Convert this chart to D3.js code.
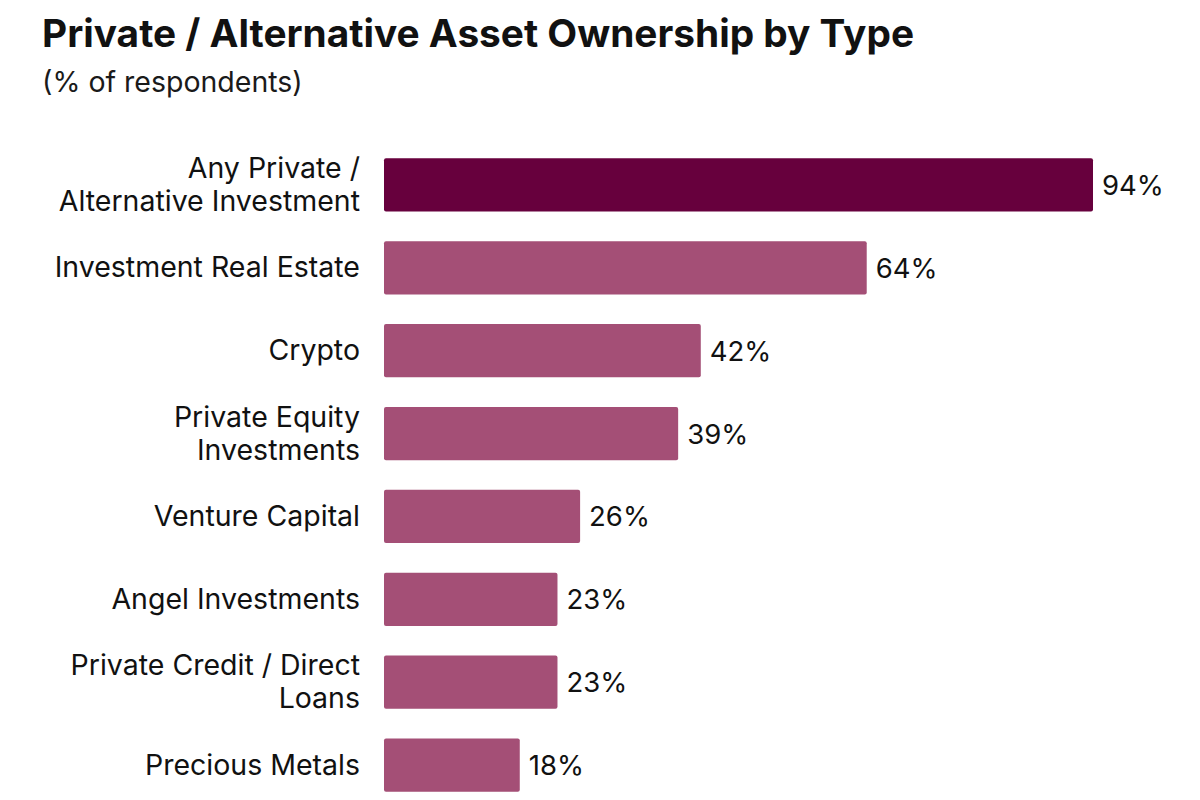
<!DOCTYPE html>
<html>
<head>
<meta charset="utf-8">
<script src="https://cdn.jsdelivr.net/npm/d3@7"></script>
<style>
  body { margin: 0; background: #fff; }
  text { font-family: Inter, "Noto Sans", sans-serif; }
</style>
</head>
<body>
<div id="chart"></div>
<script>
// chart data
const categories = [
  ["Any Private /", "Alternative Investment"],
  ["Investment Real Estate"],
  ["Crypto"],
  ["Private Equity", "Investments"],
  ["Venture Capital"],
  ["Angel Investments"],
  ["Private Credit / Direct", "Loans"],
  ["Precious Metals"]
];
const values = [94, 64, 42, 39, 26, 23, 23, 18];
const highlight = [true, false, false, false, false, false, false, false];

const width = 1200, height = 800;
const margin = { top: 150, right: 40, bottom: 0, left: 384 };

const svg = d3.select("#chart").append("svg")
  .attr("width", width)
  .attr("height", height);

svg.append("text")
  .attr("x", 42).attr("y", 47)
  .attr("font-size", 38.8).attr("font-weight", 700)
  .attr("fill", "#111")
  .text("Private / Alternative Asset Ownership by Type");

svg.append("text")
  .attr("x", 42).attr("y", 91.5)
  .attr("font-size", 28.5)
  .attr("fill", "#1a1a1a")
  .text("(% of respondents)");

const x = d3.scaleLinear().domain([0, 94]).range([0, 709]);
const y = d3.scaleBand()
  .domain(d3.range(values.length))
  .range([margin.top, height])
  .paddingInner(0.357)
  .paddingOuter(0.1);

const g = svg.append("g").attr("transform", "translate(" + margin.left + ",0)");

g.selectAll(".bar")
  .data(values)
  .enter()
  .append("rect")
  .attr("class", "bar")
  .attr("x", 0)
  .attr("y", function (d, i) { return y(i); })
  .attr("width", function (d) { return x(d); })
  .attr("height", y.bandwidth())
  .attr("rx", 2)
  .attr("fill", function (d, i) { return highlight[i] ? "#67003d" : "#a44f76"; });

g.selectAll(".value")
  .data(values)
  .enter()
  .append("text")
  .attr("class", "value")
  .attr("x", function (d) { return x(d) + 9; })
  .attr("y", function (d, i) { return y(i) + y.bandwidth() / 2 + 10; })
  .attr("font-size", 27.5)
  .attr("fill", "#111")
  .text(function (d) { return d + "%"; });

const labels = svg.selectAll(".label")
  .data(categories)
  .enter()
  .append("text")
  .attr("class", "label")
  .attr("text-anchor", "end")
  .attr("font-size", 28.5)
  .attr("fill", "#111");

labels.each(function (lines, i) {
  const cy = y(i) + y.bandwidth() / 2;
  const lh = 33;
  const first = cy + 9.5 - (lines.length - 1) * lh / 2;
  d3.select(this).selectAll("tspan")
    .data(lines)
    .enter()
    .append("tspan")
    .attr("x", 360)
    .attr("y", function (d, j) { return first + j * lh; })
    .text(function (d) { return d; });
});
</script>
</body>
</html>
